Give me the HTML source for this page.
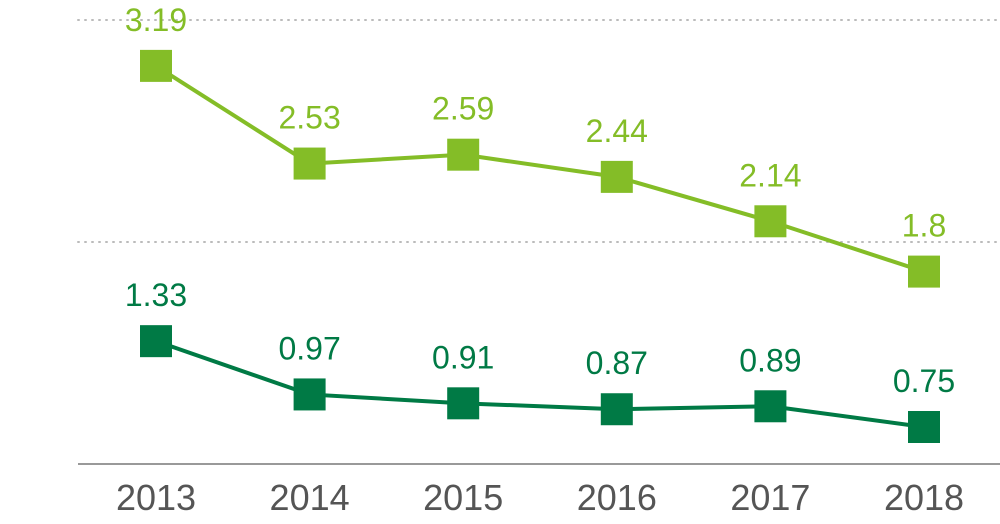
<!DOCTYPE html>
<html><head><meta charset="utf-8"><style>
html,body{margin:0;padding:0;background:#fff;}
svg{display:block;font-family:"Liberation Sans",sans-serif;}
</style></head><body>
<svg id="chart" width="1000" height="524"></svg>
<script>
const years=["2013","2014","2015","2016","2017","2018"];
const seriesTop=[3.19,2.53,2.59,2.44,2.14,1.8];
const seriesBottom=[1.33,0.97,0.91,0.87,0.89,0.75];
const gridValues=[2.0,3.5];
const axisMin=0.5;

const svg=document.getElementById('chart');
const NS='http://www.w3.org/2000/svg';
function x(i){return 156+i*153.6;}
function y(v){return 242-(v-2)*148;}
function mk(tag,attrs){const e=document.createElementNS(NS,tag);for(const k in attrs)e.setAttribute(k,attrs[k]);svg.appendChild(e);return e;}

gridValues.forEach(g=>{
  const l=mk('line',{x1:78,x2:1000,y1:y(g),y2:y(g),stroke:'#bbb','stroke-width':2,'stroke-dasharray':'1 6','stroke-linecap':'round'});
  
  
});
const base=mk('line',{x1:78,x2:1000,y1:y(axisMin),y2:y(axisMin),stroke:'#999','stroke-width':2});



years.forEach((yr,i)=>{
  const t=mk('text',{x:x(i),y:510,'text-anchor':'middle','font-size':36,fill:'#555'});
  t.textContent=yr;
  
  
});

function drawSeries(vals,color,name){
  const pts=vals.map((v,i)=>x(i)+','+y(v)).join(' ');
  const pl=mk('polyline',{points:pts,fill:'none',stroke:color,'stroke-width':4});
  
  
  vals.forEach((v,i)=>{
    const r=mk('rect',{x:x(i)-16,y:y(v)-16,width:32,height:32,fill:color});
    
    
    const t=mk('text',{x:x(i),y:y(v)-35,'text-anchor':'middle','font-size':32,fill:color});
    t.textContent=String(v);
    
    
  });
}
drawSeries(seriesTop,'#84bd27','series-top');
drawSeries(seriesBottom,'#007a45','series-bottom');
</script>
</body></html>
